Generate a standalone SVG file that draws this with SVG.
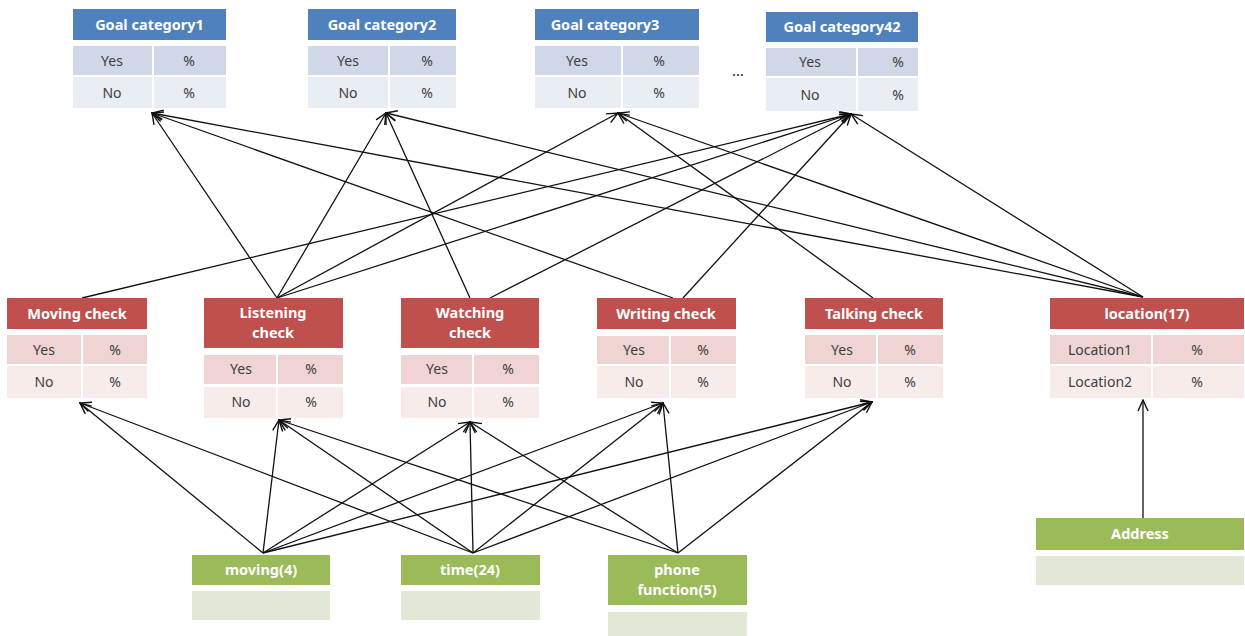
<svg xmlns="http://www.w3.org/2000/svg" width="1245" height="636" viewBox="0 0 1245 636">
<style>
text{font-family:"Noto Sans","Open Sans","DejaVu Sans",sans-serif;}
.hd{font-size:14.5px;font-weight:bold;fill:#ffffff;text-anchor:middle;}
.cell{font-size:14px;fill:#404040;text-anchor:middle;}
.bh{fill:#4F81BD}.b1{fill:#D0D8E8}.b2{fill:#E9EDF4}
.rh{fill:#C0504D}.r1{fill:#EFD4D3}.r2{fill:#F8ECEB}
.gh{fill:#9BBB59}.g1{fill:#E1E9D6}
.div{stroke:#ffffff;stroke-width:2}
.cn line{stroke:#111;stroke-width:1.3;marker-end:url(#ah)}
</style>
<defs>
<marker id="ah" markerUnits="userSpaceOnUse" markerWidth="13" markerHeight="12" viewBox="0 0 13 12" refX="12" refY="6" orient="auto">
<path d="M1,1 L12,6 L1,11" fill="none" stroke="#111" stroke-width="1.4"/>
</marker>
</defs>
<rect width="1245" height="636" fill="#ffffff"/>

<!-- connectors -->
<g id="connectors" class="cn">
<line x1="82" y1="298" x2="851" y2="114"/>
<line x1="277" y1="298" x2="152" y2="113"/>
<line x1="277" y1="298" x2="386" y2="113"/>
<line x1="277" y1="298" x2="618" y2="113"/>
<line x1="277" y1="298" x2="851" y2="114"/>
<line x1="470" y1="298" x2="386" y2="113"/>
<line x1="490" y1="298" x2="851" y2="114"/>
<line x1="673" y1="298" x2="152" y2="113"/>
<line x1="683" y1="298" x2="851" y2="114"/>
<line x1="873" y1="298" x2="618" y2="113"/>
<line x1="1143" y1="297" x2="152" y2="113"/>
<line x1="1143" y1="297" x2="386" y2="113"/>
<line x1="1143" y1="297" x2="618" y2="113"/>
<line x1="1143" y1="297" x2="851" y2="114"/>

<line x1="263" y1="553" x2="80" y2="403"/>
<line x1="263" y1="553" x2="279" y2="420"/>
<line x1="263" y1="553" x2="470" y2="422"/>
<line x1="263" y1="553" x2="663" y2="403"/>
<line x1="263" y1="553" x2="872" y2="402"/>
<line x1="473" y1="553" x2="80" y2="403"/>
<line x1="473" y1="553" x2="279" y2="420"/>
<line x1="473" y1="553" x2="470" y2="422"/>
<line x1="473" y1="553" x2="663" y2="403"/>
<line x1="473" y1="553" x2="872" y2="402"/>
<line x1="678" y1="553" x2="279" y2="420"/>
<line x1="678" y1="553" x2="470" y2="422"/>
<line x1="678" y1="553" x2="663" y2="403"/>
<line x1="678" y1="553" x2="872" y2="402"/>
<line x1="1143" y1="518" x2="1143" y2="400"/>
</g>

<!-- Goal categories -->
<g id="gc1">
<rect class="bh" x="73" y="9" width="153" height="31"/>
<rect class="b1" x="73" y="46" width="153" height="29"/>
<rect class="b2" x="73" y="77" width="153" height="31"/>
<line class="div" x1="153" y1="46" x2="153" y2="108"/>
<text class="hd" x="149.5" y="30">Goal category1</text>
<text class="cell" x="112" y="66">Yes</text><text class="cell" x="189" y="66">%</text>
<text class="cell" x="112" y="98">No</text><text class="cell" x="189" y="98">%</text>
</g>
<g id="gc2">
<rect class="bh" x="308" y="9" width="148" height="31"/>
<rect class="b1" x="308" y="46" width="148" height="29"/>
<rect class="b2" x="308" y="77" width="148" height="31"/>
<line class="div" x1="389" y1="46" x2="389" y2="108"/>
<text class="hd" x="382" y="30">Goal category2</text>
<text class="cell" x="348" y="66">Yes</text><text class="cell" x="427" y="66">%</text>
<text class="cell" x="348" y="98">No</text><text class="cell" x="427" y="98">%</text>
</g>
<g id="gc3">
<rect class="bh" x="535" y="9" width="164" height="31"/>
<rect class="b1" x="535" y="46" width="164" height="29"/>
<rect class="b2" x="535" y="77" width="164" height="31"/>
<line class="div" x1="622" y1="46" x2="622" y2="108"/>
<text class="hd" x="605" y="30">Goal category3</text>
<text class="cell" x="577" y="66">Yes</text><text class="cell" x="659" y="66">%</text>
<text class="cell" x="577" y="98">No</text><text class="cell" x="659" y="98">%</text>
</g>
<text id="dots" class="cell" x="738" y="76" style="font-size:15px;fill:#222">…</text>
<g id="gc42">
<rect class="bh" x="766" y="12" width="152" height="30"/>
<rect class="b1" x="766" y="48" width="152" height="28"/>
<rect class="b2" x="766" y="78" width="152" height="33"/>
<line class="div" x1="857" y1="48" x2="857" y2="111"/>
<text class="hd" x="842" y="32">Goal category42</text>
<text class="cell" x="810" y="67">Yes</text><text class="cell" x="898" y="67">%</text>
<text class="cell" x="810" y="100">No</text><text class="cell" x="898" y="100">%</text>
</g>

<!-- middle checks -->
<g id="moving_check">
<rect class="rh" x="7" y="298" width="140" height="31"/>
<rect class="r1" x="7" y="335" width="140" height="29"/>
<rect class="r2" x="7" y="366" width="140" height="32"/>
<line class="div" x1="82" y1="335" x2="82" y2="398"/>
<text class="hd" x="77" y="319">Moving check</text>
<text class="cell" x="44" y="355">Yes</text><text class="cell" x="115" y="355">%</text>
<text class="cell" x="44" y="387">No</text><text class="cell" x="115" y="387">%</text>
</g>
<g id="listening_check">
<rect class="rh" x="204" y="298" width="139" height="50"/>
<rect class="r1" x="204" y="355" width="139" height="29"/>
<rect class="r2" x="204" y="387" width="139" height="31"/>
<line class="div" x1="277" y1="355" x2="277" y2="418"/>
<text class="hd" x="273" y="318">Listening</text>
<text class="hd" x="273" y="338">check</text>
<text class="cell" x="241" y="374">Yes</text><text class="cell" x="311" y="374">%</text>
<text class="cell" x="241" y="407">No</text><text class="cell" x="311" y="407">%</text>
</g>
<g id="watching_check">
<rect class="rh" x="401" y="298" width="138" height="50"/>
<rect class="r1" x="401" y="355" width="138" height="29"/>
<rect class="r2" x="401" y="387" width="138" height="31"/>
<line class="div" x1="473" y1="355" x2="473" y2="418"/>
<text class="hd" x="470" y="318">Watching</text>
<text class="hd" x="470" y="338">check</text>
<text class="cell" x="437" y="374">Yes</text><text class="cell" x="508" y="374">%</text>
<text class="cell" x="437" y="407">No</text><text class="cell" x="508" y="407">%</text>
</g>
<g id="writing_check">
<rect class="rh" x="597" y="298" width="139" height="31"/>
<rect class="r1" x="597" y="336" width="139" height="28"/>
<rect class="r2" x="597" y="366" width="139" height="32"/>
<line class="div" x1="670" y1="336" x2="670" y2="398"/>
<text class="hd" x="666" y="319">Writing check</text>
<text class="cell" x="634" y="355">Yes</text><text class="cell" x="703" y="355">%</text>
<text class="cell" x="634" y="387">No</text><text class="cell" x="703" y="387">%</text>
</g>
<g id="talking_check">
<rect class="rh" x="805" y="298" width="138" height="31"/>
<rect class="r1" x="805" y="335" width="138" height="29"/>
<rect class="r2" x="805" y="366" width="138" height="32"/>
<line class="div" x1="877" y1="335" x2="877" y2="398"/>
<text class="hd" x="874" y="319">Talking check</text>
<text class="cell" x="842" y="355">Yes</text><text class="cell" x="910" y="355">%</text>
<text class="cell" x="842" y="387">No</text><text class="cell" x="910" y="387">%</text>
</g>
<g id="location">
<rect class="rh" x="1050" y="298" width="194" height="31"/>
<rect class="r1" x="1050" y="335" width="194" height="29"/>
<rect class="r2" x="1050" y="366" width="194" height="32"/>
<line class="div" x1="1152" y1="335" x2="1152" y2="398"/>
<text class="hd" x="1147" y="319">location(17)</text>
<text class="cell" x="1100" y="355">Location1</text><text class="cell" x="1197" y="355">%</text>
<text class="cell" x="1100" y="387">Location2</text><text class="cell" x="1197" y="387">%</text>
</g>

<!-- bottom inputs -->
<g id="moving4">
<rect class="gh" x="192" y="555" width="138" height="30"/>
<rect class="g1" x="192" y="591" width="138" height="29"/>
<text class="hd" x="261" y="575">moving(4)</text>
</g>
<g id="time24">
<rect class="gh" x="401" y="555" width="139" height="30"/>
<rect class="g1" x="401" y="591" width="139" height="29"/>
<text class="hd" x="470" y="575">time(24)</text>
</g>
<g id="phone">
<rect class="gh" x="608" y="555" width="139" height="50"/>
<rect class="g1" x="608" y="612" width="139" height="24"/>
<text class="hd" x="677" y="575">phone</text>
<text class="hd" x="677" y="595">function(5)</text>
</g>
<g id="address">
<rect class="gh" x="1036" y="518" width="208" height="32"/>
<rect class="g1" x="1036" y="556" width="208" height="29"/>
<text class="hd" x="1140" y="539">Address</text>
</g>
</svg>
